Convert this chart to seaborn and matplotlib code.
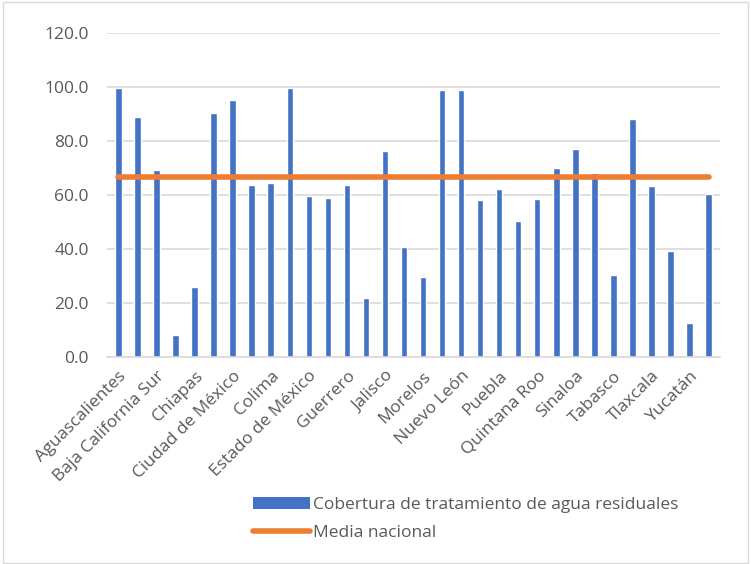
import matplotlib
matplotlib.use("Agg")
import matplotlib.pyplot as plt
import seaborn as sns
import pandas as pd
from matplotlib.patches import Rectangle, Patch
from matplotlib.lines import Line2D

estados = ["Aguascalientes", "Baja California", "Baja California Sur", "Campeche", "Chiapas",
           "Chihuahua", "Ciudad de México", "Coahuila", "Colima", "Durango", "Estado de México",
           "Guanajuato", "Guerrero", "Hidalgo", "Jalisco", "Michoacán", "Morelos", "Nayarit",
           "Nuevo León", "Oaxaca", "Puebla", "Querétaro", "Quintana Roo", "San Luis Potosí",
           "Sinaloa", "Sonora", "Tabasco", "Tamaulipas", "Tlaxcala", "Veracruz", "Yucatán",
           "Zacatecas"]
cobertura = [99.8, 88.9, 69.1, 8.3, 25.8, 90.4, 95.3, 63.6, 64.4, 99.8, 59.6,
             58.8, 63.8, 21.7, 76.3, 40.7, 29.6, 99.0, 99.0, 58.1, 62.1, 50.2,
             58.5, 69.9, 76.9, 68.0, 30.2, 88.3, 63.2, 39.1, 12.5, 60.5]
media_nacional = 66.7

serie_barras = "Cobertura de tratamiento de agua residuales"
serie_linea = "Media nacional"

df = pd.DataFrame({"estado": estados, "cobertura": cobertura,
                   "media": [media_nacional] * len(estados)})

sns.set_theme(style="white")
plt.rcParams["font.family"] = ["Open Sans", "DejaVu Sans"]

blue = "#4472C4"
orange = "#ED7D31"
grey_text = "#595959"
grid_c = "#D9D9D9"
fs = 12.5

fig = plt.figure(figsize=(7.51, 5.64), dpi=100)
ax = fig.add_axes([107 / 751, 1 - 357 / 564, (720 - 107) / 751, (357 - 33) / 564])

sns.barplot(data=df, x="estado", y="cobertura", color=blue, width=0.34,
            saturation=1, ax=ax, zorder=2)
ax.plot(range(len(estados)), df["media"], color=orange, lw=4,
        solid_capstyle="round", zorder=3)

ax.set_ylim(0, 120)
ax.set_xlim(-0.6, len(estados) - 0.4)
ax.set_yticks(range(0, 121, 20))
ax.set_yticklabels([f"{v:.1f}" for v in range(0, 121, 20)], color=grey_text, fontsize=fs)
ax.yaxis.grid(True, color=grid_c, lw=1.2, zorder=0)
ax.set_axisbelow(True)
for s in ["top", "right", "left"]:
    ax.spines[s].set_visible(False)
ax.spines["bottom"].set_color(grid_c)
ax.spines["bottom"].set_linewidth(1.2)
ax.tick_params(axis="y", length=0, pad=13)
ax.set_xlabel("")
ax.set_ylabel("")

ticks = list(range(0, len(estados), 2))
ax.set_xticks(ticks)
ax.set_xticklabels([estados[i] for i in ticks], rotation=45, ha="right",
                   rotation_mode="anchor", color=grey_text, fontsize=fs)
ax.tick_params(axis="x", length=0, pad=8)

handles = [Patch(facecolor=blue, edgecolor="none", label=serie_barras),
           Line2D([0], [0], color=orange, lw=4, solid_capstyle="round", label=serie_linea)]
leg = fig.legend(handles=handles, loc="upper left", bbox_to_anchor=(244 / 751, 1 - 488 / 564),
                 frameon=False, fontsize=fs, handlelength=3.3, handleheight=0.7,
                 handletextpad=0.15, labelspacing=0.7, borderpad=0)
for t in leg.get_texts():
    t.set_color(grey_text)

fig.patches.append(Rectangle((3 / 751, 0.002), 1 - 6 / 751, 0.995, transform=fig.transFigure,
                             fill=False, edgecolor="#D9D9D9", lw=1))

fig.savefig("out.png", dpi=100)
